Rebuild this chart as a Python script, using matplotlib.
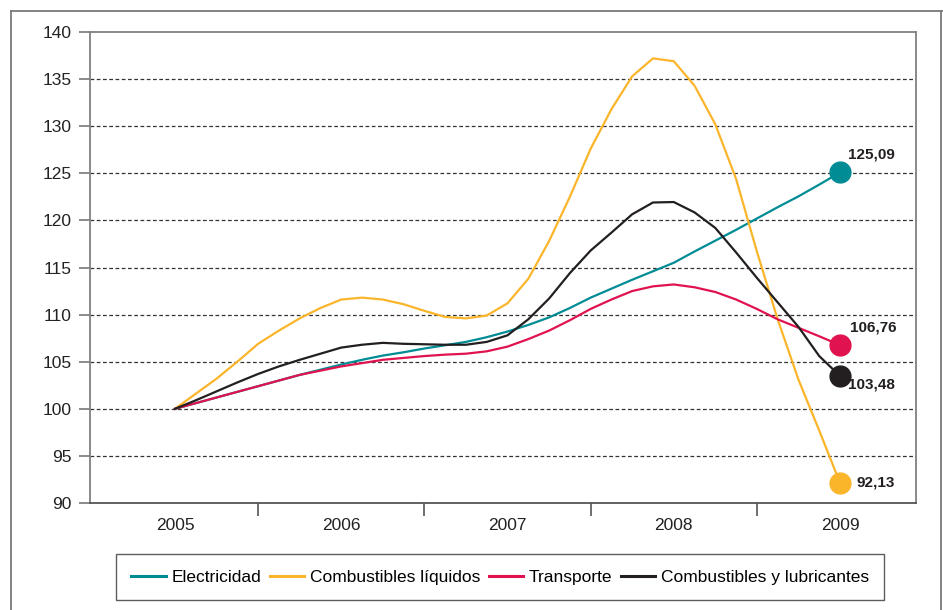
import matplotlib.pyplot as plt
from matplotlib.lines import Line2D
import numpy as np

plt.rcParams['font.family'] = ['Liberation Sans', 'DejaVu Sans']

# x positions: half-quarter steps from 2005 to 2009
years = [2005, 2006, 2007, 2008, 2009]
x_vals = np.arange(33) / 8 + 2005

electricidad = [100, 100.6, 101.2, 101.8, 102.4, 103.0, 103.6, 104.15, 104.7, 105.2, 105.65,
                106.0, 106.4, 106.75, 107.1, 107.6, 108.2, 108.9, 109.7, 110.7, 111.8, 112.75,
                113.7, 114.6, 115.5, 116.7, 117.85, 119.0, 120.2, 121.4, 122.55, 123.8, 125.09]
comb_liquidos = [100, 101.6, 103.2, 105.0, 106.9, 108.3, 109.6, 110.7, 111.6, 111.8, 111.6,
                 111.1, 110.4, 109.75, 109.6, 109.9, 111.2, 113.8, 117.8, 122.5, 127.6, 131.8,
                 135.3, 137.2, 136.9, 134.3, 130.2, 124.4, 116.7, 109.5, 103.1, 97.7, 92.13]
transporte = [100, 100.6, 101.2, 101.8, 102.4, 103.0, 103.6, 104.05, 104.5, 104.85, 105.2,
              105.4, 105.6, 105.75, 105.85, 106.1, 106.6, 107.4, 108.3, 109.4, 110.6, 111.6,
              112.5, 113.0, 113.2, 112.9, 112.4, 111.6, 110.6, 109.5, 108.6, 107.7, 106.76]
comb_lubricantes = [100, 100.9, 101.85, 102.8, 103.7, 104.5, 105.2, 105.85, 106.5, 106.8, 107.0,
                    106.9, 106.85, 106.8, 106.8, 107.1, 107.8, 109.5, 111.7, 114.4, 116.8, 118.7,
                    120.65, 121.9, 121.95, 120.85, 119.2, 116.6, 113.9, 111.3, 108.7, 105.6, 103.48]

names = ["Electricidad", "Combustibles líquidos", "Transporte", "Combustibles y lubricantes"]
series = [electricidad, comb_liquidos, transporte, comb_lubricantes]
colors = ["#008C95", "#FBB52B", "#E1134F", "#231F20"]
end_labels = ["125,09", "92,13", "106,76", "103,48"]
label_offsets = [(6, 13), (12, 0), (7, 13), (6, -6)]   # points

fig = plt.figure(figsize=(9.43, 6.10), dpi=100)
ax = fig.add_axes([90 / 943, 1 - 503 / 610, 826 / 943, 471 / 610])

# outer frame of the graphic
frame_kw = dict(transform=fig.transFigure, color="#7a7a7a", lw=1.3)
fig.add_artist(Line2D([11 / 943, 11 / 943], [0, 1 - 11 / 610], **frame_kw))
fig.add_artist(Line2D([11 / 943, 1], [1 - 11 / 610, 1 - 11 / 610], **frame_kw))
fig.add_artist(Line2D([941 / 943, 941 / 943], [0, 1 - 11 / 610], **frame_kw))

for vals, col, name in zip(series, colors, names):
    ax.plot(x_vals, vals, color=col, lw=1.6, label=name, zorder=3)

for vals, col, lab, off in zip(series, colors, end_labels, label_offsets):
    ax.plot(x_vals[-1], vals[-1], 'o', color=col, ms=15, zorder=4)
    ax.annotate(lab, (x_vals[-1], vals[-1]), xytext=off, textcoords="offset points",
                ha="left", va="center", fontsize=11, fontweight="bold", color="#231F20")

ax.set_xlim(2005 - 85 / 166.25, 2009 + 76 / 166.25)
ax.set_ylim(90, 140)
ax.set_yticks(np.arange(90, 141, 5))
ax.set_xticks(years)
ax.set_xticks([2005.5, 2006.5, 2007.5, 2008.5], minor=True)
ax.tick_params(axis="x", which="major", length=0, pad=11, labelsize=12.5, labelcolor="#222222")
ax.tick_params(axis="x", which="minor", length=9, width=1.2, color="#555555", direction="out")
ax.tick_params(axis="y", length=8, width=1.2, color="#777777", labelsize=12.5,
               labelcolor="#222222", pad=5)

for y in range(95, 140, 5):
    ax.axhline(y, color="#333333", lw=0.9, ls=(0, (3, 2)), zorder=1)

for side in ["left", "top", "right"]:
    ax.spines[side].set_color("#808080")
    ax.spines[side].set_linewidth(1.3)
ax.spines["bottom"].set_color("#555555")
ax.spines["bottom"].set_linewidth(1.3)

leg = fig.legend(loc="center", bbox_to_anchor=(500 / 943, 1 - 577 / 610), ncol=4,
                 frameon=True, fancybox=False, fontsize=12.5, handlelength=2.0,
                 handletextpad=0.3, columnspacing=0.5, borderpad=0.9, edgecolor="#333333")
leg.get_frame().set_linewidth(1.0)
for h in leg.get_lines():
    h.set_linewidth(2.2)

fig.savefig("out.png", dpi=100)
